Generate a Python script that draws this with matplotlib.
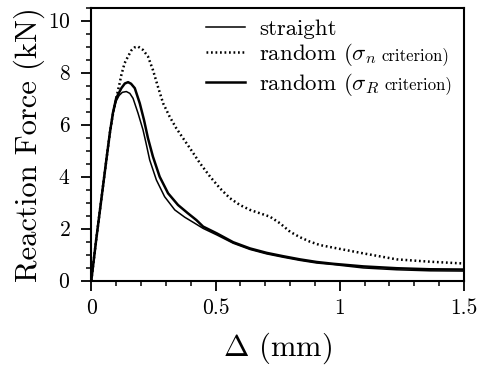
import matplotlib
matplotlib.use("Agg")
import matplotlib.pyplot as plt
from matplotlib.ticker import MultipleLocator
from matplotlib.offsetbox import TextArea, HPacker

plt.rcParams['font.family'] = ['cmr10', 'DejaVu Serif']
plt.rcParams['mathtext.fontset'] = 'cm'
plt.rcParams['axes.formatter.use_mathtext'] = True

# straight crack (thin solid)
x_straight = [0, 0.02, 0.04, 0.06, 0.075, 0.087, 0.1, 0.112, 0.125, 0.141, 0.155, 0.168, 0.188,
              0.208, 0.22, 0.235, 0.262, 0.295, 0.336, 0.376, 0.416, 0.45, 0.505, 0.571,
              0.639, 0.706, 0.773, 0.84, 0.907, 0.974, 1.095, 1.229, 1.363, 1.5]
y_straight = [0, 1.6, 3.1, 4.6, 5.7, 6.4, 6.9, 7.12, 7.24, 7.27, 7.2, 7.01, 6.44,
              5.8, 5.3, 4.64, 3.87, 3.23, 2.72, 2.44, 2.21, 2.01, 1.76, 1.44,
              1.2, 1.03, 0.9, 0.78, 0.68, 0.62, 0.49, 0.42, 0.38, 0.37]

# random crack, sigma_n criterion (dotted)
x_rand_n = [0, 0.02, 0.04, 0.06, 0.075, 0.087, 0.1, 0.114, 0.121, 0.134, 0.148, 0.161, 0.175,
            0.188, 0.208, 0.228, 0.248, 0.268, 0.289, 0.315, 0.342, 0.369, 0.4, 0.437, 0.478,
            0.518, 0.558, 0.598, 0.639, 0.679, 0.719, 0.759, 0.8, 0.84, 0.88, 0.92, 0.974,
            1.095, 1.229, 1.363, 1.5]
y_rand_n = [0, 1.6, 3.1, 4.6, 5.7, 6.4, 7.0, 7.59, 7.91, 8.36, 8.62, 8.85, 8.97,
            9.0, 8.87, 8.62, 8.1, 7.46, 6.82, 6.31, 5.86, 5.48, 5.05, 4.52, 4.0,
            3.55, 3.17, 2.91, 2.72, 2.59, 2.46, 2.21, 1.88, 1.67, 1.5, 1.37, 1.27,
            1.05, 0.82, 0.73, 0.66]

# random crack, sigma_R criterion (thick solid)
x_rand_R = [0, 0.02, 0.04, 0.06, 0.075, 0.087, 0.1, 0.121, 0.135, 0.148, 0.16, 0.175, 0.195,
            0.212, 0.228, 0.248, 0.275, 0.309, 0.349, 0.389, 0.423, 0.45, 0.505, 0.571,
            0.639, 0.706, 0.773, 0.84, 0.907, 0.974, 1.095, 1.229, 1.363, 1.5]
y_rand_R = [0, 1.6, 3.1, 4.6, 5.7, 6.45, 7.01, 7.4, 7.58, 7.63, 7.57, 7.4, 6.82,
            6.18, 5.48, 4.77, 4.0, 3.36, 2.91, 2.59, 2.33, 2.08, 1.82, 1.48,
            1.24, 1.07, 0.94, 0.82, 0.72, 0.65, 0.55, 0.48, 0.44, 0.43]

labels = ['straight', r'random ($\sigma_n$', r'random ($\sigma_R$']
label_tail = [None, 'criterion)', 'criterion)']

fig = plt.figure(figsize=(4.86, 3.65), dpi=100)
ax = fig.add_axes([91.3/486, 1 - 280.7/365, (464 - 91.3)/486, (280.7 - 7.5)/365])

ax.plot(x_straight, y_straight, color='black', lw=1.1, label=labels[0])
ax.plot(x_rand_n, y_rand_n, color='black', lw=1.8, ls=(0, (0.7, 1.1)), label=labels[1])
ax.plot(x_rand_R, y_rand_R, color='black', lw=1.8, label=labels[2])

ax.set_xlim(0, 1.5)
ax.set_ylim(0, 10.5)
ax.xaxis.set_minor_locator(MultipleLocator(0.1))
ax.yaxis.set_major_locator(MultipleLocator(2))
ax.yaxis.set_minor_locator(MultipleLocator(0.5))
ax.set_xticks([0, 0.5, 1, 1.5])
ax.set_xticklabels(['0', '0.5', '1', '1.5'])
ax.tick_params(which='major', direction='out', length=7, width=1.3, labelsize=15.5)
ax.tick_params(axis='x', which='major', pad=6)
ax.tick_params(axis='y', which='major', pad=8)
ax.tick_params(which='minor', direction='out', length=3.6, width=1.1)
for s in ax.spines.values():
    s.set_linewidth(1.5)

ax.set_xlabel(r'$\Delta$ (mm)', fontsize=22, labelpad=9)
ax.set_ylabel('Reaction Force (kN)', fontsize=22, labelpad=2)

leg = ax.legend(loc='upper right', frameon=False, fontsize=16.5, handlelength=1.7,
                handletextpad=0.6, labelspacing=0.1, borderaxespad=0.3,
                borderpad=0.2)

# append the smaller "criterion)" text to the legend entries
items = leg._legend_handle_box.get_children()[0].get_children()
for hp, tail in zip(items, label_tail):
    if tail:
        ta = TextArea(tail, textprops=dict(fontsize=12, family=['cmr10', 'DejaVu Serif']))
        orig = hp._children[1]
        sub = HPacker(children=[orig, ta], sep=4, pad=0, align='baseline')
        sub.set_figure(fig)
        ta.set_figure(fig)
        ta._text.set_figure(fig)
        hp._children[1] = sub

fig.savefig('out.png', dpi=100)
